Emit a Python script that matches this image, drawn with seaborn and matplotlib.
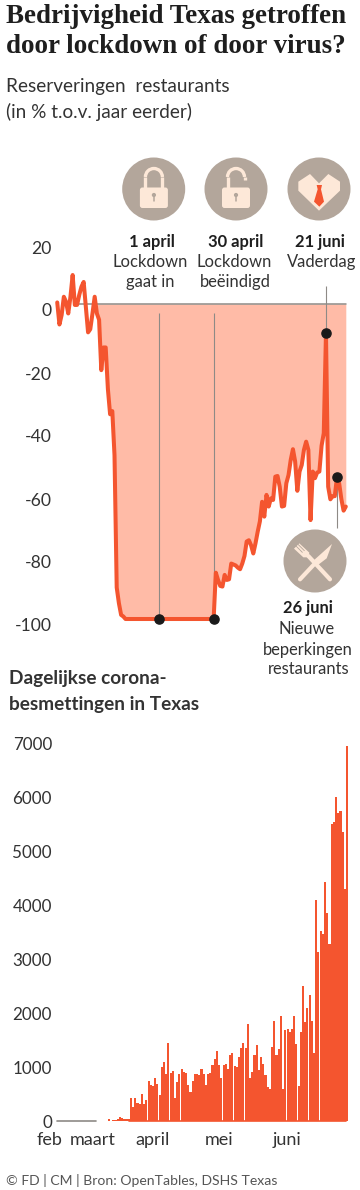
import numpy as np
import matplotlib
matplotlib.use('Agg')
from matplotlib import pyplot as plt
from matplotlib import patches
from matplotlib.transforms import ScaledTranslation
import seaborn as sns

# Restaurant reservations, % vs. a year earlier, one value per day
reservations = [
    0.5, -6.5, -3.5, 2.3, 0.7, -3, 2.3, 9.2, -0.3, -0.3, 2.9, 5.5, 7, -1, -9, -8,
    -3, 2.3, -3, -5, -21, -13.8, -13.8, -27, -35, -34, -48, -90, -95, -98.7, -99.2,
    -100, -100, -100, -100, -100, -100, -100, -100, -100, -100, -100, -100, -100, -100,
    -100, -100, -100, -100, -100, -100, -100, -100, -100, -100, -100, -100, -100, -100,
    -100, -100, -100, -100, -100, -100, -100, -100, -100, -100, -100, -100, -100,
    -85.3, -87.6, -89.5, -89.7, -86, -87.6, -87.4, -82.4, -82.7, -83, -83.7, -84.2,
    -82.4, -80, -75.4, -75, -76.6, -79.2, -76, -72.3, -69, -62.8, -67.5, -60.6, -64.3,
    -61.7, -62.2, -54.8, -54.6, -58, -64.3, -64.1, -56.9, -54.3, -49.5, -46.1, -50,
    -59.3, -53.2, -51.1, -46.3, -43.7, -46.3, -68.6, -53.2, -55.3, -53.5, -53.2, -45,
    -41, -9.3, -58, -62, -61, -61, -55, -57, -62, -65.6, -64.3,
]

# Daily corona infections in Texas
cases = [
    0, 0, 0, 0, 0, 0, 0, 0, 0, 0, 0, 0, 0, 0, 0, 0, 0,
    5, 5, 5, 5, 5, 5, 37, 5, 18, 18, 30, 68, 60, 37, 30, 30,
    426, 259, 420, 339, 315, 500, 321, 389, 734, 666, 654, 790, 679, 481, 993, 1092,
    876, 1444, 882, 925, 432, 716, 870, 962, 913, 895, 660, 543, 740, 870, 870, 858, 962,
    864, 666, 876, 882, 1030, 1141, 1296, 1030, 790, 1037, 1055, 963, 1222, 1253, 1012,
    1000, 1178, 1351, 1444, 1345, 1795, 790, 907, 1222, 1407, 944, 1178, 1055, 845, 623,
    592, 1364, 1851, 1228, 1333, 1944, 592, 1684, 1703, 1647, 1697, 1937, 1425, 642,
    1641, 2499, 1826, 2092, 2332, 1845, 1253, 4091, 3128, 3517, 3455, 4424, 3856, 3276,
    5491, 5541, 5991, 5707, 5738, 5349, 4288, 6950,
]

res_ticks = [20, 0, -20, -40, -60, -80, -100]
case_ticks = [0, 1000, 2000, 3000, 4000, 5000, 6000, 7000]
month_names = ['feb', 'maart', 'april', 'mei', 'juni']
month_pos = [-3.7, 15.7, 43, 73, 103.8]

# event day, value where the guide line stops
event_days = [46, 71, 122, 127]
event_ends = [-2.9, -2.9, 5.7, -71]

RED = '#F4552F'
FILL = '#FFBBA7'
GREY = '#8E8A86'
TEXT = '#333333'
TAUPE = '#B3A69B'
CREAM = '#FDE8D8'

W, H = 360, 1190
FS = 0.72  # px to pt at dpi 100

sns.set_style('white')
plt.rcParams['font.family'] = ['Lato', 'DejaVu Sans']


def px_axes(fig, left, right, top, bottom):
    return fig.add_axes([left / W, 1 - bottom / H, (right - left) / W, (bottom - top) / H])


fig = plt.figure(figsize=(W / 100, H / 100), dpi=100)

# Top chart: reservations
days = np.arange(len(reservations))
res = np.array(reservations)

ax = px_axes(fig, 46, 348, 241, 619)
ax.patch.set_alpha(0)
ax.fill_between(days[18:], res[18:], 0, color=FILL, lw=0)
ax.plot([8, 131], [0, 0], color=GREY, lw=1.1)
ax.vlines(event_days, res[event_days], event_ends, color=GREY, lw=0.8)
sns.lineplot(x=days, y=res, color=RED, linewidth=2.9, ax=ax, clip_on=False)
ax.plot(days[event_days], res[event_days], 'o', color='#1A1A1A', ms=6.6, clip_on=False, zorder=5)
ax.set_xlim(-5.1, 132)
ax.set_ylim(-100, 20)
ax.set_xticks([])
ax.set_yticks(res_ticks)
ax.set_yticklabels([str(t) for t in res_ticks])
ax.set_xlabel('')
ax.set_ylabel('')
ax.tick_params(axis='y', length=0, pad=-6 * FS, labelsize=17.5 * FS, labelcolor=TEXT)
offset = ScaledTranslation(0, -6 / 100, fig.dpi_scale_trans)
for lab in ax.get_yticklabels():
    lab.set_transform(lab.get_transform() + offset)
sns.despine(ax=ax, left=True, bottom=True)

# Bottom chart: infections
ax2 = px_axes(fig, 46, 348, 743, 1121)
ax2.patch.set_alpha(0)
ax2.plot([-0.5, 17], [0, 0], color=GREY, lw=1.2, clip_on=False)
sns.barplot(x=np.arange(len(cases)), y=cases, color=RED, width=0.95, saturation=1, linewidth=0, ax=ax2)
ax2.plot([32, 130.5], [0, 0], color=RED, lw=1.2, clip_on=False)
ax2.set_xlim(-5.49, 131.4)
ax2.set_ylim(0, 7000)
ax2.set_xticks(month_pos)
ax2.set_xticklabels(month_names)
ax2.set_yticks(case_ticks)
ax2.set_yticklabels([str(t) for t in case_ticks])
ax2.set_xlabel('')
ax2.set_ylabel('')
ax2.tick_params(axis='y', length=0, pad=-6 * FS, labelsize=17 * FS, labelcolor=TEXT)
ax2.tick_params(axis='x', length=0, pad=11 * FS, labelsize=18 * FS, labelcolor=TEXT)
sns.despine(ax=ax2, left=True, bottom=True)

# Overlay in pixel coordinates for text and icons
ov = fig.add_axes([0, 0, 1, 1], zorder=10)
ov.set_xlim(0, W)
ov.set_ylim(H, 0)
ov.axis('off')


def txt(x, y, s, size=18, weight='normal', ha='left', color=TEXT, family=None):
    kw = {'family': family} if family else {}
    ov.text(x, y, s, fontsize=size * FS, fontweight=weight, ha=ha, va='baseline', color=color, **kw)


txt(6, 23, 'Bedrijvigheid Texas getroffen', 27, 'bold', color='#1E1E1E', family='Liberation Serif')
txt(6, 52.7, 'door lockdown of door virus?', 27, 'bold', color='#1E1E1E', family='Liberation Serif')
txt(6, 92, 'Reserveringen  restaurants', 19)
txt(6, 118, '(in % t.o.v. jaar eerder)', 19)
txt(9, 684, 'Dagelijkse corona-', 19, 'bold')
txt(9, 710, 'besmettingen in Texas', 19, 'bold')
txt(6, 1185, '© FD | CM | Bron: OpenTables, DSHS Texas', 14, color='#555555')

txt(151.7, 246.7, '1 april', 16.5, 'bold', 'center', '#1E1E1E')
txt(150, 266.7, 'Lockdown', 16.5, ha='center')
txt(150.5, 287, 'gaat in', 16.5, ha='center')
txt(236, 246.7, '30 april', 16.5, 'bold', 'center', '#1E1E1E')
txt(234, 266.7, 'Lockdown', 16.5, ha='center')
txt(235.7, 287, 'beëindigd', 16.5, ha='center')
txt(320, 246.7, '21 juni', 16.5, 'bold', 'center', '#1E1E1E')
txt(322, 266.7, 'Vaderdag', 16.5, ha='center')
txt(308, 613, '26 juni', 16.5, 'bold', 'center', '#1E1E1E')
txt(307, 634, 'Nieuwe', 16.5, ha='center')
txt(308, 655, 'beperkingen', 16.5, ha='center')
txt(309, 674, 'restaurants', 16.5, ha='center')

for cx, cy in [(153.7, 189), (236, 189), (319, 189), (315, 561)]:
    ov.add_patch(patches.Circle((cx, cy), 31.5, color=TAUPE, lw=0))


def lock(cx, top, opened):
    ov.add_patch(patches.FancyBboxPatch((cx - 12.5, 189), 25, 17.5, boxstyle='round,pad=1.5,rounding_size=2.5',
                                        color=CREAM, lw=0))
    ov.plot([cx - 8.5, cx - 8.5], [189, top + 9], color=CREAM, lw=2.4, solid_capstyle='butt')
    ov.plot([cx + 8.5, cx + 8.5], [180 if opened else 189, top + 9], color=CREAM, lw=2.4, solid_capstyle='butt')
    ov.add_patch(patches.Arc((cx, top + 9), 17, 17, theta1=180, theta2=360, color=CREAM, lw=2.4))
    ov.add_patch(patches.Circle((cx, 195), 2.1, color=TAUPE, lw=0))
    ov.plot([cx, cx], [195, 201], color=TAUPE, lw=1.1)


lock(153.9, 168, False)
lock(236, 168, True)

# heart with tie (points as read in the 3x crop)
zoom5 = lambda pts: [(110 + x / 3, 150 + y / 3) for x, y in pts]
ov.add_patch(patches.Polygon(zoom5([(565, 95), (565, 122), (627, 182), (690, 122), (690, 95), (655, 72), (627, 100),
                                    (600, 72)]), color=CREAM, lw=0))
ov.add_patch(patches.Polygon(zoom5([(620, 105), (636, 105), (633, 118), (642, 155), (628, 170), (612, 155), (623, 118)]),
                             color=RED, lw=0))

# fork and knife
zoom6 = lambda pts: [(270 + x / 3, 520 + y / 3) for x, y in pts]
ov.add_patch(patches.Polygon(zoom6([(186, 72), (170, 115), (140, 138), (128, 124)]), color=CREAM, lw=0))
(a, b), (c, d) = zoom6([(90, 178), (135, 130)])
ov.plot([a, c], [b, d], color=CREAM, lw=3, solid_capstyle='round')
(a, b), (c, d) = zoom6([(180, 178), (115, 108)])
ov.plot([a, c], [b, d], color=CREAM, lw=3, solid_capstyle='round')
ov.add_patch(patches.Polygon(zoom6([(88, 70), (72, 86), (100, 112), (115, 112), (118, 98)]), color=CREAM, lw=0))
for p, q in [((78, 78), (97, 97)), ((84, 73), (103, 92))]:
    (a, b), (c, d) = zoom6([p, q])
    ov.plot([a, c], [b, d], color=TAUPE, lw=0.6)

fig.savefig('out.png', dpi=100)
